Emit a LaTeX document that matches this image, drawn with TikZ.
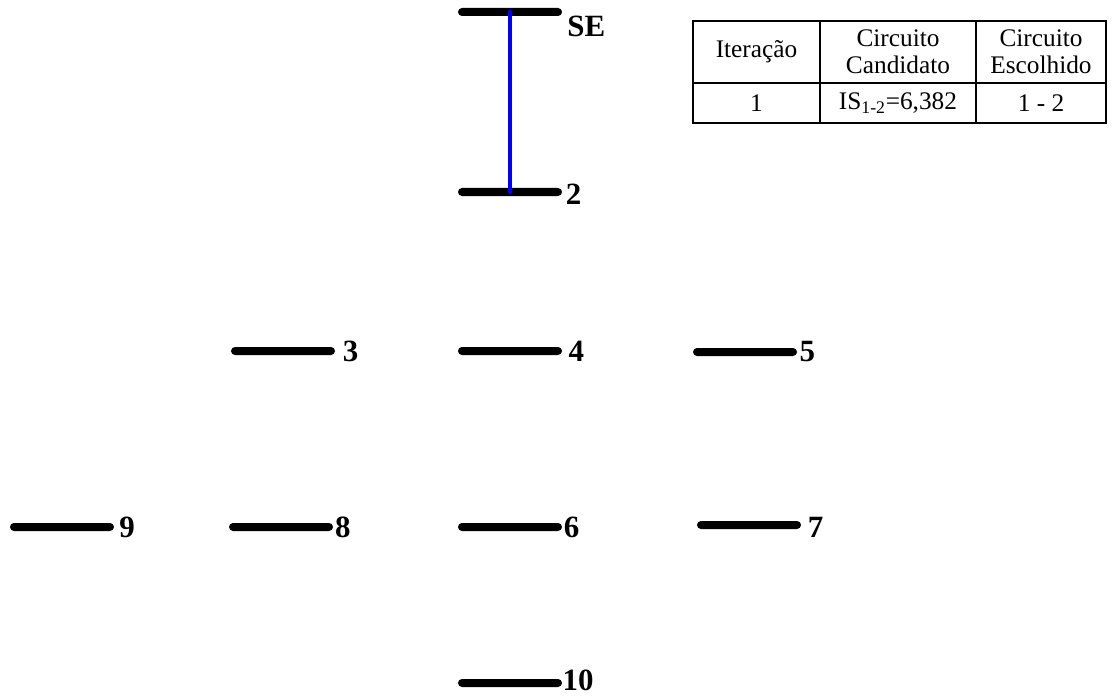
\documentclass[tikz,border=0pt]{standalone}
\usepackage{fontspec}
\setmainfont{Liberation Serif}
\usepackage{tikz}
\usetikzlibrary{positioning}
\tikzset{
  busbar/.style={rectangle, fill=black, rounded corners=1mm, minimum width=26mm, minimum height=2mm, inner sep=0pt},
  buslabel/.style={inner sep=0pt, font=\fontsize{22}{22}\selectfont\bfseries},
  feeder/.style={draw=blue, line width=3.5pt, line cap=round},
  cell/.style={inner sep=0pt, align=center, font=\fontsize{18}{19}\selectfont},
  tableline/.style={line width=1.3pt},
}

\begin{document}
\begin{tikzpicture}[x=0.025cm, y=-0.025cm]
  \useasboundingbox (0,0) rectangle (1113,696);

  % bus bars
  \node[busbar] (bus1) at (510,12) {};
  \node[busbar] (bus2) at (510,192) {};
  \node[busbar] (bus3) at (283,351) {};
  \node[busbar] (bus4) at (510,351) {};
  \node[busbar] (bus5) at (745,352) {};
  \node[busbar] (bus6) at (510,527) {};
  \node[busbar] (bus7) at (749,525) {};
  \node[busbar] (bus8) at (281,527) {};
  \node[busbar] (bus9) at (62,527) {};
  \node[busbar] (bus10) at (510,683) {};

  % bus numbers
  \node[buslabel] (lbl1) [right=1.2mm of bus1.east, yshift=-3.5mm] {SE};
  \node[buslabel] (lbl2) [right=0.8mm of bus2.east, yshift=-0.5mm] {2};
  \node[buslabel] (lbl3) [right=1.8mm of bus3.east] {3};
  \node[buslabel] (lbl4) [right=1.5mm of bus4.east] {4};
  \node[buslabel] (lbl5) [right=0.5mm of bus5.east] {5};
  \node[buslabel] (lbl6) [right=0.3mm of bus6.east] {6};
  \node[buslabel] (lbl7) [right=1.6mm of bus7.east, yshift=-0.5mm] {7};
  \node[buslabel] (lbl8) [right=0.4mm of bus8.east] {8};
  \node[buslabel] (lbl9) [right=1.2mm of bus9.east] {9};
  \node[buslabel] (lbl10) [right=0mm of bus10.east, yshift=0.6mm] {10};

  % chosen circuit
  \draw[feeder] (bus1.center) -- (bus2.center);

  % iteration table
  \draw[tableline] (693,21) rectangle (1106,123);
  \draw[tableline] (693,83) -- (1106,83);
  \draw[tableline] (820,21) -- (820,123);
  \draw[tableline] (976,21) -- (976,123);
  \node[cell] (head1) at (756.5,52) {Iteração};
  \node[cell] (head2) at (898,52) {Circuito\\Candidato};
  \node[cell] (head3) at (1041,52) {Circuito\\Escolhido};
  \node[cell] (row1) at (756.5,103) {1};
  \node[cell] (row2) at (898,103) {IS\textsubscript{1-2}=6,382};
  \node[cell] (row3) at (1041,103) {1 - 2};
\end{tikzpicture}
\end{document}
